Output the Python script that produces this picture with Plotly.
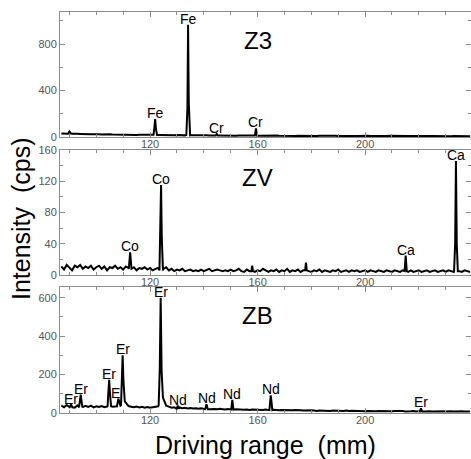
import numpy as np
import plotly.graph_objects as go

# Driving range grid (mm) for the sampled background of each spectrum
grid_x = np.arange(87, 240, 1.0)

# ---- Z3 spectrum -------------------------------------------------------
z3_base = [30, 28, 31, 27, 29, 26, 28, 27, 25, 27,
           26, 24, 25, 27, 24, 23, 25, 22, 24, 23,
           22, 24, 21, 23, 22, 20, 22, 21, 19, 21,
           20, 19, 21, 18, 20, 19, 18, 17, 19, 17,
           18, 16, 17, 18, 16, 17, 15, 16, 17, 15,
           16, 15, 14, 16, 15, 14, 15, 13, 15, 14,
           13, 14, 15, 13, 14, 12, 14, 13, 12, 14,
           13, 12, 13, 14, 12, 13, 11, 13, 12, 11,
           13, 12, 11, 12, 13, 11, 12, 10, 12, 11,
           12, 11, 10, 12, 11, 10, 11, 12, 10, 11,
           10, 11, 12, 10, 11, 9, 11, 10, 11, 10,
           9, 11, 10, 9, 11, 10, 9, 10, 11, 9,
           10, 9, 11, 10, 9, 10, 9, 11, 10, 9,
           10, 9, 8, 10, 9, 10, 8, 9, 10, 9,
           8, 9, 10, 8, 9, 8, 10, 9, 8, 9,
           8, 9, 8]
z3_peaks = [
    ([89.5, 90.0, 90.6], [28, 48, 30]),
    ([121.3, 121.6, 121.9, 122.2, 122.6], [20, 80, 155, 70, 18]),
    ([133.5, 133.9, 134.15, 134.4, 134.9], [18, 250, 965, 300, 16]),
    ([144.4, 144.8, 145.2], [14, 28, 14]),
    ([159.0, 159.4, 159.8], [13, 75, 13]),
]
z3_label_x = [121.9, 134.15, 144.8, 159.4]
z3_label_y = [155, 965, 28, 75]
z3_label_text = ["Fe", "Fe", "Cr", "Cr"]

# ---- ZV spectrum -------------------------------------------------------
zv_base = [11, 7, 13, 9, 6, 12, 10, 13, 8, 11,
           9, 12, 7, 10, 12, 8, 11, 6, 10, 9,
           12, 8, 10, 7, 11, 9, 8, 10, 6, 9,
           8, 10, 7, 9, 6, 8, 9, 7, 8, 10,
           6, 8, 5, 7, 6, 8, 5, 6, 7, 5,
           6, 5, 7, 5, 6, 8, 5, 6, 7, 6,
           5, 6, 5, 7, 5, 6, 8, 5, 4, 7,
           5, 9, 4, 6, 5, 8, 6, 4, 6, 5,
           7, 4, 6, 5, 8, 4, 6, 5, 7, 4,
           6, 7, 5, 4, 6, 5, 7, 4, 6, 5,
           4, 6, 5, 7, 4, 5, 6, 4, 6, 5,
           6, 4, 5, 6, 4, 6, 5, 4, 6, 5,
           4, 6, 5, 4, 6, 5, 4, 6, 5, 4,
           6, 4, 5, 6, 4, 5, 6, 4, 5, 6,
           4, 5, 6, 4, 6, 5, 4, 6, 5, 4,
           6, 5, 4]
zv_peaks = [
    ([112.1, 112.6, 113.1], [8, 29, 8]),
    ([123.5, 123.85, 124.1, 124.35, 124.8], [6, 50, 115, 50, 6]),
    ([157.7, 158.0, 158.3], [5, 12, 5]),
    ([177.7, 178.0, 178.3], [6, 16, 6]),
    ([214.7, 215.1, 215.5], [5, 25, 5]),
    ([233.1, 233.5, 233.8, 234.1, 234.5], [5, 40, 146, 40, 5]),
]
zv_label_x = [112.6, 124.1, 215.1, 233.8]
zv_label_y = [29, 115, 25, 146]
zv_label_text = ["Co", "Co", "Ca", "Ca"]

# ---- ZB spectrum -------------------------------------------------------
zb_base = [38, 30, 42, 33, 36, 28, 40, 34, 31, 37,
           32, 38, 29, 35, 31, 36, 30, 34, 37, 32,
           35, 30, 38, 42, 40, 36, 33, 30, 34, 29,
           32, 28, 31, 27, 30, 33, 35, 40, 45, 38,
           33, 28, 30, 26, 29, 25, 27, 24, 26, 23,
           25, 22, 24, 21, 23, 20, 22, 21, 19, 22,
           20, 18, 21, 19, 17, 20, 18, 19, 17, 18,
           16, 18, 17, 15, 17, 16, 18, 15, 16, 17,
           15, 14, 16, 15, 13, 15, 14, 16, 13, 14,
           13, 14, 12, 14, 13, 11, 13, 12, 14, 12,
           11, 13, 12, 10, 12, 11, 13, 10, 12, 11,
           10, 12, 11, 9, 11, 10, 12, 9, 11, 10,
           9, 11, 10, 9, 10, 11, 9, 10, 8, 10,
           9, 10, 8, 10, 9, 8, 10, 9, 8, 9,
           10, 8, 9, 8, 10, 9, 8, 9, 8, 9,
           8, 9, 8]
zb_peaks = [
    ([90.1, 90.6, 91.1], [30, 44, 30]),
    ([93.6, 94.2, 94.8], [30, 95, 32]),
    ([104.2, 104.5, 104.8, 105.1, 105.5], [35, 110, 173, 100, 35]),
    ([107.7, 108.2, 108.7], [35, 75, 45]),
    ([109.2, 109.5, 109.8, 110.1, 110.6, 111.5], [40, 180, 300, 170, 60, 45]),
    ([123.2, 123.6, 123.95, 124.3, 124.8, 125.6], [40, 220, 600, 220, 80, 50]),
    ([129.9, 130.3, 130.7], [22, 38, 22]),
    ([140.5, 141.0, 141.5], [20, 45, 20]),
    ([150.2, 150.6, 151.0], [18, 68, 18]),
    ([164.4, 164.7, 164.9, 165.2, 165.5], [15, 60, 92, 55, 15]),
    ([220.4, 220.8, 221.2], [8, 25, 8]),
]
zb_label_x = [90.6, 94.2, 104.8, 107.0, 109.8, 123.95, 130.3, 141.0, 150.6, 164.9, 220.8]
zb_label_y = [44, 95, 173, 75, 300, 600, 38, 45, 68, 92, 25]
zb_label_text = ["Er", "Er", "Er", "E", "Er", "Er", "Nd", "Nd", "Nd", "Nd", "Er"]

panel_names = ["Z3", "ZV", "ZB"]


def assemble(base, peaks):
    """Merge the background samples with the peak profiles."""
    spans = [(px[0], px[-1]) for px, _ in peaks]
    pts = [(x, y) for x, y in zip(grid_x, base)
           if not any(a <= x <= b for a, b in spans)]
    for px, py in peaks:
        pts.extend(zip(px, py))
    pts.sort()
    return [p[0] for p in pts], [p[1] for p in pts]


FONT = "Arial, Liberation Sans, sans-serif"
AX_COL = "#8c8c8c"
TICK_FONT = dict(family=FONT, size=11, color="#555555")

# panel layout: (x axis id, y axis id, y domain, y range, major dtick, minor dtick)
panels = [
    ("x", "y", [0.688, 1.0], [0, 1075], 400, 200),
    ("x2", "y2", [0.344, 0.656], [0, 160], 40, 20),
    ("x3", "y3", [0.0, 0.314], [0, 655], 200, 100),
]
spectra = [(z3_base, z3_peaks), (zv_base, zv_peaks), (zb_base, zb_peaks)]
labels = [(z3_label_x, z3_label_y, z3_label_text),
          (zv_label_x, zv_label_y, zv_label_text),
          (zb_label_x, zb_label_y, zb_label_text)]

fig = go.Figure()
annotations = []
layout = {}
for (xa, ya, dom, yr, dt, mdt), (base, peaks), (lx, ly, lt), name in zip(panels, spectra, labels, panel_names):
    sx, sy = assemble(base, peaks)
    fig.add_trace(go.Scatter(x=sx, y=sy, xaxis=xa, yaxis=ya, mode="lines",
                             line=dict(color="black", width=2), showlegend=False,
                             hoverinfo="skip"))
    xkey = "xaxis" + xa[1:]
    ykey = "yaxis" + ya[1:]
    layout[xkey] = dict(
        domain=[0, 1], anchor=ya, range=[86.5, 239.4],
        tick0=0, dtick=40, ticks="inside", ticklen=5, tickwidth=1, tickcolor=AX_COL,
        minor=dict(dtick=10, tick0=0, ticks="inside", ticklen=3, tickcolor=AX_COL),
        showline=True, linecolor=AX_COL, linewidth=1, mirror="ticks",
        showgrid=False, zeroline=False, tickfont=TICK_FONT, ticklabelstandoff=-3,
    )
    layout[ykey] = dict(
        domain=dom, anchor=xa, range=yr,
        tick0=0, dtick=dt, ticks="inside", ticklen=5, tickwidth=1, tickcolor=AX_COL,
        minor=dict(dtick=mdt, tick0=0, ticks="inside", ticklen=3, tickcolor=AX_COL),
        showline=True, linecolor=AX_COL, linewidth=1, mirror="ticks",
        showgrid=False, zeroline=False, tickfont=TICK_FONT,
    )
    for x, y, t in zip(lx, ly, lt):
        annotations.append(dict(x=x, y=y, xref=xa, yref=ya, text=t, showarrow=False,
                                xanchor="center", yanchor="bottom", yshift=-4,
                                font=dict(family=FONT, size=14, color="black")))
    annotations.append(dict(x=160, y=0.776, xref=xa, yref=ya + " domain", text=name,
                            showarrow=False, xanchor="center", yanchor="middle",
                            font=dict(family=FONT, size=24, color="black")))

annotations.append(dict(x=0.5, y=-0.08, xref="paper", yref="paper",
                        text="Driving range\u00a0\u00a0(mm)", showarrow=False,
                        xanchor="center", yanchor="middle",
                        font=dict(family=FONT, size=25, color="black")))
annotations.append(dict(x=-0.095, y=0.486, xref="paper", yref="paper",
                        text="Intensity\u00a0\u00a0(cps)", showarrow=False, textangle=-90,
                        xanchor="center", yanchor="middle",
                        font=dict(family=FONT, size=25, color="black")))

fig.update_layout(
    width=471, height=459,
    margin=dict(l=60, r=0, t=12, b=46),
    paper_bgcolor="white", plot_bgcolor="white",
    annotations=annotations,
    **layout,
)

fig.write_html("out.html")
